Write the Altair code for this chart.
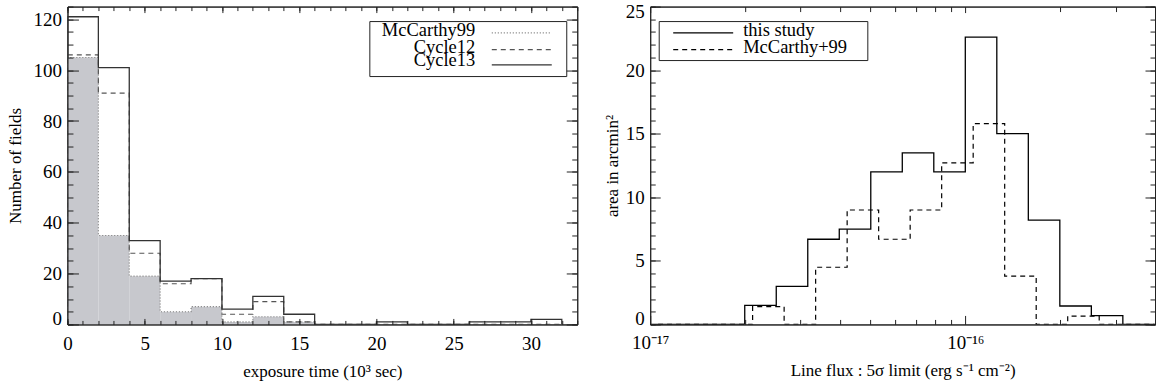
import altair as alt
import pandas as pd

FONT = "Liberation Serif"

# ---------------- left panel: exposure-time histogram ----------------
exposure_edges = [0, 2, 4, 6, 8, 10, 12, 14, 16, 18, 20, 22, 24, 26, 28, 30, 32]
mccarthy99_counts = [105, 35, 19, 5, 7, 1, 3, 1, 0, 0, 0, 0, 0, 0, 0, 0]
cycle12_counts = [106, 91, 28, 16, 18, 4, 9, 1, 0, 0, 0, 0, 0, 0, 0, 0]
cycle13_counts = [121, 101, 33, 17, 18, 6, 11, 4, 0, 0, 1, 0, 0, 1, 1, 2]
left_names = ["McCarthy99", "Cycle12", "Cycle13"]

exposure_major_ticks = [0, 5, 10, 15, 20, 25, 30]
exposure_minor_ticks = list(range(0, 34))
fields_major_ticks = [0, 20, 40, 60, 80, 100, 120]
fields_minor_ticks = list(range(0, 126, 5))

# ---------------- right panel: line-flux limit histogram ----------------
flux_edges_this_log = [-17.0, -16.9, -16.8, -16.7, -16.6, -16.5, -16.4, -16.3, -16.2,
                       -16.1, -16.0, -15.9, -15.8, -15.7, -15.6, -15.5, -15.4]
area_this_study = [0, 0, 0, 1.5, 3.0, 6.7, 7.5, 12.0, 13.5, 12.0, 22.6, 15.0, 8.2, 1.45, 0.7, 0]
flux_edges_mc_log = [-16.975, -16.875, -16.775, -16.675, -16.575, -16.475, -16.375, -16.275,
                     -16.175, -16.075, -15.975, -15.875, -15.775, -15.675, -15.575, -15.475, -15.375]
area_mccarthy = [0, 0, 0, 1.4, 0, 4.5, 9.0, 6.7, 9.0, 12.7, 15.8, 3.8, 0, 0.65, 0, 0]
right_names = ["this study", "McCarthy+99"]

flux_major_ticks = [1e-17, 1e-16]
flux_minor_ticks = [2e-17, 3e-17, 4e-17, 5e-17, 6e-17, 7e-17, 8e-17, 9e-17, 2e-16, 3e-16]
area_major_ticks = [0, 5, 10, 15, 20, 25]
area_minor_ticks = list(range(0, 26))


def step_frame(edges, counts, name):
    xs = [edges[0]] + list(edges[:-1]) + [edges[-1], edges[-1]]
    ys = [0] + list(counts) + [counts[-1], 0]
    return pd.DataFrame({"x": xs, "y": ys, "series": name, "i": list(range(len(xs)))})


def axis(orient, values, size, labels=False, title=None, label_pad=0,
         title_pad=0, label_expr=None, domain=False, flush=False):
    kw = dict(orient=orient, values=values, tickSize={"expr": str(-size)},
              labels=labels, grid=False, domain=domain, domainColor="#222",
              domainWidth=1, tickColor="#222", tickWidth=1, zindex=1, title=title)
    if labels:
        kw.update(labelFont=FONT, labelFontSize=19, labelColor="black",
                  labelPadding=label_pad, labelFlush=flush, labelOverlap=False)
        if flush:
            kw["labelFlushOffset"] = 4
    else:
        kw.update(minExtent=0, maxExtent=0)
    if label_expr:
        kw["labelExpr"] = label_expr
    if title:
        kw.update(titleFont=FONT, titleFontSize=17, titleFontWeight="normal",
                  titleColor="black", titlePadding=title_pad)
    return alt.Axis(**kw)


def legend_layers(names, dashes, colors, box, text_x, text_align, line_x, text_y, line_y):
    layers = [
        alt.Chart(pd.DataFrame({"n": [0]})).mark_rect(fill="white", stroke="#222", strokeWidth=1)
        .encode(x=alt.value(box[0]), x2=alt.value(box[1]), y=alt.value(box[2]), y2=alt.value(box[3]))
    ]
    for name, dash, col, ty, ly in zip(names, dashes, colors, text_y, line_y):
        layers.append(
            alt.Chart(pd.DataFrame({"label": [name]}))
            .mark_text(align=text_align, baseline="alphabetic", font=FONT, fontSize=18.5, color="black")
            .encode(x=alt.value(text_x), y=alt.value(ty), text="label:N")
        )
        rule = dict(color=col, strokeWidth=1.2)
        if dash:
            rule["strokeDash"] = dash
        layers.append(
            alt.Chart(pd.DataFrame({"label": [name]})).mark_rule(**rule)
            .encode(x=alt.value(line_x[0]), x2=alt.value(line_x[1]), y=alt.value(ly))
        )
    return layers


# ---------------- left chart ----------------
LW, LH = 510, 318
xl = alt.Scale(domain=[0, 33], nice=False, zero=False)
yl = alt.Scale(domain=[0, 125], nice=False)

mc_df = step_frame(exposure_edges, mccarthy99_counts, left_names[0])
c12_df = step_frame(exposure_edges, cycle12_counts, left_names[1])
c13_df = step_frame(exposure_edges, cycle13_counts, left_names[2])

l_area = alt.Chart(mc_df).mark_area(interpolate="step-after", color="#c7c8cd", clip=True).encode(
    x=alt.X("x:Q", scale=xl, axis=axis("bottom", exposure_major_ticks, 6, labels=True,
                                          title="exposure time (10³ sec)", label_pad=16,
                                          title_pad=10, domain=True)),
    y=alt.Y("y:Q", scale=yl, axis=axis("left", fields_major_ticks, 11, labels=True,
                                          title="Number of fields", label_pad=17,
                                          title_pad=8, domain=True, flush=True)),
    order=alt.Order("i:Q"),
)
l_dot = alt.Chart(mc_df).mark_line(interpolate="step-after", color="#777", strokeWidth=1.1,
                                   strokeDash=[1, 2], clip=True).encode(
    x=alt.X("x:Q", scale=xl, axis=axis("bottom", exposure_minor_ticks, 4)),
    y=alt.Y("y:Q", scale=yl, axis=axis("left", fields_minor_ticks, 5.5)),
    order=alt.Order("i:Q"),
)
l_dash = alt.Chart(c12_df).mark_line(interpolate="step-after", color="#555", strokeWidth=1.2,
                                     strokeDash=[5, 4], clip=True).encode(
    x=alt.X("x:Q", scale=xl, axis=axis("top", exposure_major_ticks, 6, domain=True)),
    y=alt.Y("y:Q", scale=yl, axis=axis("right", fields_major_ticks, 11, domain=True)),
    order=alt.Order("i:Q"),
)
l_solid = alt.Chart(c13_df).mark_line(interpolate="step-after", color="#333", strokeWidth=1.3,
                                      clip=True).encode(
    x=alt.X("x:Q", scale=xl, axis=axis("top", exposure_minor_ticks, 4)),
    y=alt.Y("y:Q", scale=yl, axis=axis("right", fields_minor_ticks, 5.5)),
    order=alt.Order("i:Q"),
)
l_legend = legend_layers(left_names, [[1, 2], [5, 4], None], ["#777", "#555", "#333"],
                         box=(302.5, 499.5, 15, 70), text_x=408, text_align="right",
                         line_x=(424.5, 484.5), text_y=[29.5, 46.5, 59.5],
                         line_y=[26.3, 43, 58.3])

left = alt.layer(l_area, l_dot, l_dash, l_solid, *l_legend).resolve_axis(
    x="independent", y="independent").properties(width=LW, height=LH)

# ---------------- right chart ----------------
RW, RH = 505, 318
xr = alt.Scale(type="log", domain=[1e-17, 4e-16], nice=False)
yr = alt.Scale(domain=[0, 25], nice=False)

this_df = step_frame([10 ** e for e in flux_edges_this_log], area_this_study, right_names[0])
mc2_df = step_frame([10 ** e for e in flux_edges_mc_log], area_mccarthy, right_names[1])

sup_expr = ("'10' + replace(replace(replace(replace('' + round(log(datum.value) / LN10), "
            "'-', '⁻'), '1', '¹'), '7', '⁷'), '6', '⁶')")

r_solid = alt.Chart(this_df).mark_line(interpolate="step-after", color="black", strokeWidth=1.3,
                                       clip=True).encode(
    x=alt.X("x:Q", scale=xr, axis=axis("bottom", flux_major_ticks, 9, labels=True,
                                          title="Line flux : 5σ limit (erg s⁻¹ cm⁻²)",
                                          label_pad=18, title_pad=10, label_expr=sup_expr,
                                          domain=True)),
    y=alt.Y("y:Q", scale=yr, axis=axis("left", area_major_ticks, 10, labels=True,
                                          title="area in arcmin²", label_pad=16,
                                          title_pad=4, domain=True, flush=True)),
    order=alt.Order("i:Q"),
)
r_dash = alt.Chart(mc2_df).mark_line(interpolate="step-after", color="black", strokeWidth=1.2,
                                     strokeDash=[5, 4], clip=True).encode(
    x=alt.X("x:Q", scale=xr, axis=axis("bottom", flux_minor_ticks, 5)),
    y=alt.Y("y:Q", scale=yr, axis=axis("left", area_minor_ticks, 5)),
    order=alt.Order("i:Q"),
)
r_top_major = alt.Chart(this_df).mark_line(opacity=0).encode(
    x=alt.X("x:Q", scale=xr, axis=axis("top", flux_major_ticks, 6, domain=True)),
    y=alt.Y("y:Q", scale=yr, axis=axis("right", area_major_ticks, 10, domain=True)),
    order=alt.Order("i:Q"),
)
r_top_minor = alt.Chart(this_df).mark_line(opacity=0).encode(
    x=alt.X("x:Q", scale=xr, axis=axis("top", flux_minor_ticks, 5)),
    y=alt.Y("y:Q", scale=yr, axis=axis("right", area_minor_ticks, 5)),
    order=alt.Order("i:Q"),
)
r_legend = legend_layers(right_names, [None, [5, 4]], ["black", "black"],
                         box=(9, 217.7, 15, 54), text_x=93, text_align="left",
                         line_x=(23, 83), text_y=[29.7, 46.3], line_y=[26.3, 43])

right = alt.layer(r_solid, r_dash, r_top_major, r_top_minor, *r_legend).resolve_axis(
    x="independent", y="independent").properties(width=RW, height=RH)

chart = alt.hconcat(left, right, spacing=24).properties(
    padding={"left": 6.5, "top": 1.5, "right": 0, "bottom": 0},
    background="white",
).configure_view(stroke="#222", strokeWidth=1)

chart.save("out.html", embed_options={"renderer": "svg", "actions": False})
